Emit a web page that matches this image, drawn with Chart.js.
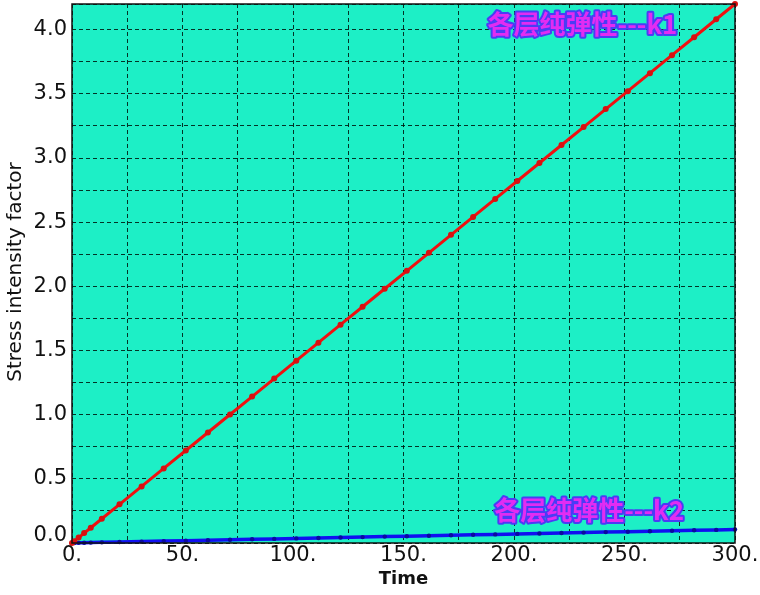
<!DOCTYPE html>
<html>
<head>
<meta charset="utf-8">
<script src="https://cdn.jsdelivr.net/npm/chart.js@4/dist/chart.umd.min.js"></script>
<style>
html,body{margin:0;padding:0;background:#fff;}
#c{display:block;}
</style>
</head>
<body>
<canvas id="c" width="760" height="595"></canvas>
<script>
// Data
const timeValues = [0, 1, 3, 5.5, 8.5, 13.5, 21.5, 31.5, 41.5, 51.5, 61.5, 71.5, 81.5, 91.5, 101.5, 111.5, 121.5, 131.5, 141.5, 151.5, 161.5, 171.5, 181.5, 191.5, 201.5, 211.5, 221.5, 231.5, 241.5, 251.5, 261.5, 271.5, 281.5, 291.5, 300];
const k1Values = [0, 0.014, 0.042, 0.077, 0.119, 0.189, 0.301, 0.441, 0.581, 0.721, 0.861, 1.001, 1.141, 1.281, 1.421, 1.561, 1.701, 1.841, 1.981, 2.121, 2.261, 2.401, 2.541, 2.681, 2.821, 2.961, 3.101, 3.241, 3.381, 3.521, 3.661, 3.801, 3.941, 4.081, 4.2];
const k2Values = [0, 0.0004, 0.001, 0.002, 0.003, 0.005, 0.008, 0.011, 0.015, 0.018, 0.022, 0.025, 0.029, 0.032, 0.036, 0.039, 0.043, 0.046, 0.050, 0.053, 0.057, 0.060, 0.064, 0.067, 0.071, 0.074, 0.078, 0.081, 0.085, 0.088, 0.092, 0.095, 0.099, 0.102, 0.105];
const xTickLabels = ["0.", "50.", "100.", "150.", "200.", "250.", "300."];
const xTickValues = [0, 50, 100, 150, 200, 250, 300];
const yTickLabels = ["0.0", "0.5", "1.0", "1.5", "2.0", "2.5", "3.0", "3.5", "4.0"];
const yTickValues = [0, 0.5, 1, 1.5, 2, 2.5, 3, 3.5, 4];
const seriesNames = ["各层纯弹性---k1", "各层纯弹性---k2"];
const seriesLabelPos = [[231, 4.04], [234, 0.257]];
const xTitle = "Time";
const yTitle = "Stress intensity factor";

const k1Points = timeValues.map((t, i) => ({x: t, y: k1Values[i]}));
const k2Points = timeValues.map((t, i) => ({x: t, y: k2Values[i]}));

const decor = {
  id: 'decor',
  beforeDraw(chart) {
    const {ctx, chartArea: a} = chart;
    ctx.save();
    ctx.fillStyle = '#1DEFC6';
    ctx.fillRect(a.left, a.top, a.right - a.left, a.bottom - a.top);
    ctx.restore();
  },
  afterDraw(chart) {
    const {ctx, chartArea: a, scales} = chart;
    const xs = scales.x, ys = scales.y;
    ctx.save();
    // frame
    ctx.strokeStyle = '#111';
    ctx.lineWidth = 1.5;
    ctx.strokeRect(a.left, a.top, a.right - a.left, a.bottom - a.top);
    // tick labels
    ctx.fillStyle = '#111';
    ctx.font = '21px "DejaVu Sans"';
    ctx.textAlign = 'right';
    ctx.textBaseline = 'middle';
    yTickValues.forEach((v, i) => {
      let py = ys.getPixelForValue(v);
      if (i === 0) py -= 7;
      ctx.fillText(yTickLabels[i], a.left - 5, py);
    });
    ctx.textAlign = 'center';
    xTickValues.forEach((v, i) => {
      ctx.fillText(xTickLabels[i], xs.getPixelForValue(v), a.bottom + 13);
    });
    // axis titles
    ctx.font = 'bold 18px "DejaVu Sans"';
    ctx.fillText(xTitle, (a.left + a.right) / 2, 579);
    ctx.save();
    ctx.translate(16, 272);
    ctx.rotate(-Math.PI / 2);
    ctx.font = '20px "DejaVu Sans"';
    ctx.fillText(yTitle, 0, 0);
    ctx.restore();
    // series labels
    ctx.font = 'bold 26px "Noto Sans CJK SC"';
    ctx.lineJoin = 'round';
    seriesNames.forEach((name, i) => {
      const px = xs.getPixelForValue(seriesLabelPos[i][0]);
      const py = ys.getPixelForValue(seriesLabelPos[i][1]);
      ctx.lineWidth = 4;
      ctx.strokeStyle = '#4A3CF5';
      ctx.strokeText(name, px, py);
      ctx.fillStyle = '#E22CF2';
      ctx.fillText(name, px, py);
    });
    ctx.restore();
  }
};

new Chart(document.getElementById('c'), {
  type: 'line',
  data: {
    datasets: [
      {
        label: seriesNames[0],
        data: k1Points,
        borderColor: '#F01010',
        backgroundColor: '#D81010',
        borderWidth: 3,
        pointRadius: 3,
        pointBorderWidth: 0,
        pointBackgroundColor: '#D81010',
        tension: 0,
        clip: false
      },
      {
        label: seriesNames[1],
        data: k2Points,
        borderColor: '#1010F0',
        backgroundColor: '#0808B0',
        borderWidth: 3.5,
        pointRadius: 2.2,
        pointBorderWidth: 0,
        pointBackgroundColor: '#0A0AA0',
        tension: 0,
        clip: false
      }
    ]
  },
  options: {
    responsive: false,
    animation: false,
    devicePixelRatio: 1,
    layout: {padding: {left: 72, right: 25, top: 4, bottom: 52}},
    plugins: {legend: {display: false}, tooltip: {enabled: false}},
    scales: {
      x: {
        type: 'linear', min: 0, max: 300,
        ticks: {display: false, stepSize: 25},
        grid: {color: 'rgba(0,30,20,0.9)', lineWidth: 1, drawTicks: false},
        border: {display: false, dash: [4, 3]}
      },
      y: {
        type: 'linear', min: 0, max: 4.2,
        ticks: {display: false, stepSize: 0.25},
        grid: {color: 'rgba(0,30,20,0.9)', lineWidth: 1, drawTicks: false},
        border: {display: false, dash: [4, 3]}
      }
    }
  },
  plugins: [decor]
});
</script>
</body>
</html>
